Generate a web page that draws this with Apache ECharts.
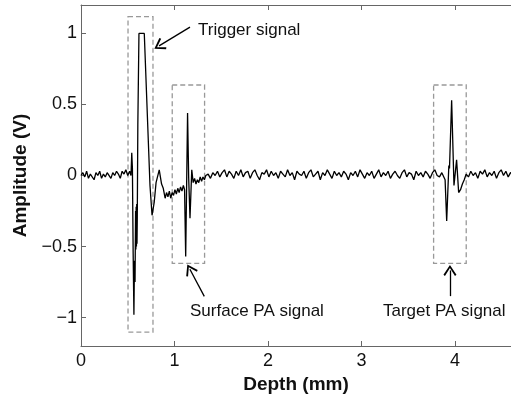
<!DOCTYPE html>
<html>
<head>
<meta charset="utf-8">
<script src="https://cdn.jsdelivr.net/npm/echarts@6/dist/echarts.min.js"></script>
<style>html,body{margin:0;padding:0;background:#fff;}#chart{width:511px;height:396px;}</style>
</head>
<body>
<div id="chart"></div>
<script>
// ---- data ----
const depth = [
  0,0.02,0.04,0.06,0.08,0.1,0.12,0.14,0.16,0.18,0.2,0.22,0.24,0.26,0.28,0.3,0.32,0.34,0.36,0.38,0.4,0.42,0.44,0.46,0.48,0.5,0.52,
  0.535,0.543,0.55,0.558,0.566,0.572,0.578,0.584,0.587,0.59,0.593,0.596,0.599,0.602,0.608,0.62,0.677,0.738,0.76,0.783,0.803,0.837,0.862,0.88,0.9,0.915,0.93,0.945,0.96,0.975,0.99,1.005,1.02,1.035,1.05,1.065,1.08,1.095,1.108,1.12,1.14,1.152,1.166,1.185,1.2,1.215,1.23,1.245,1.26,1.275,1.29,1.305,1.32,1.335,
  1.36,1.385,1.41,1.435,1.46,1.485,1.51,1.535,1.56,1.585,1.61,1.635,1.66,1.685,1.71,1.735,1.76,1.785,1.81,1.835,1.86,1.885,1.91,1.935,1.96,1.985,2.01,2.035,2.06,2.085,2.11,2.135,2.16,2.185,2.21,2.235,2.26,2.285,2.31,2.335,2.36,2.385,2.41,2.435,2.46,2.485,2.51,2.535,2.56,2.585,2.61,2.635,2.66,2.685,2.71,2.735,2.76,2.785,2.81,2.835,2.86,2.885,2.91,2.935,2.96,2.985,3.01,3.035,3.06,3.085,3.11,3.135,3.16,3.185,3.21,3.235,3.26,3.285,3.31,3.335,3.36,3.385,3.41,3.435,3.46,3.485,3.51,3.535,3.56,3.585,3.61,3.635,3.66,3.685,3.71,3.735,3.76,3.785,3.81,3.835,3.86,
  3.88,3.895,3.912,3.935,3.942,3.965,3.99,4.018,4.04,4.06,4.08,4.1,4.12,
  4.145,4.17,4.195,4.22,4.245,4.27,4.295,4.32,4.345,4.37,4.395,4.42,4.445,4.47,4.495,4.52,4.545,4.57,4.595,4.62
];
const amplitude = [
  0.00,0.02,-0.01,0.03,-0.02,0.01,0.02,-0.03,0.02,0.00,0.03,-0.02,0.01,-0.01,0.02,0.03,-0.02,0.02,0.00,0.03,0.01,-0.02,0.03,0.01,0.04,0.00,0.03,
  0.00,0.16,0.05,-0.55,-0.98,-0.60,-0.75,-0.25,-0.52,-0.22,-0.50,-0.20,-0.48,-0.30,0.36,1.00,1.00,-0.07,-0.28,-0.19,-0.05,0.04,-0.06,-0.09,-0.16,-0.12,-0.15,-0.11,-0.16,-0.12,-0.14,-0.10,-0.13,-0.09,-0.12,-0.08,-0.11,-0.07,-0.10,-0.57,0.44,-0.02,-0.30,0.04,-0.05,-0.02,-0.06,-0.03,-0.05,-0.01,-0.04,-0.01,-0.03,0.00,
  0.01,-0.02,0.02,0.00,0.03,-0.01,0.02,0.04,-0.01,0.03,
  0.01,-0.02,0.03,0.00,0.04,-0.01,0.02,0.03,-0.02,0.02,
  0.04,0.00,-0.03,0.02,0.01,0.04,-0.01,0.03,0.00,0.02,
  -0.02,0.03,0.01,-0.01,0.04,0.00,0.02,-0.03,0.03,0.01,
  0.00,0.03,-0.02,0.02,0.04,-0.01,0.01,0.03,-0.03,0.02,
  0.00,0.04,0.01,-0.02,0.03,0.00,0.02,-0.01,0.03,0.01,
  -0.03,0.02,0.00,0.03,-0.01,0.04,0.01,-0.02,0.02,0.00,
  0.03,-0.02,0.01,0.04,-0.01,0.02,0.00,0.03,-0.02,0.01,
  0.03,0.00,-0.02,0.02,0.04,-0.01,0.02,0.01,-0.03,0.03,
  0.00,0.02,-0.01,0.03,0.01,-0.02,0.02,0.04,0.00,-0.01,
  0.02,
  0.01,-0.03,-0.32,0.07,0.05,0.53,-0.07,0.11,-0.12,-0.10,-0.06,-0.03,0.01,
  -0.01,0.03,0.00,0.02,-0.02,0.03,0.01,0.04,-0.01,0.02,0.00,0.03,-0.02,0.02,0.04,0.00,0.03,-0.01,0.02,0.01
];
const xTicks = [0, 1, 2, 3, 4];
const yTicks = [-1, -0.5, 0, 0.5, 1];
// annotation boxes: [xStart, yTop, xEnd, yBottom]
const boxes = [
  [0.503, 1.118, 0.77, -1.102],
  [0.976, 0.637, 1.322, -0.618],
  [3.772, 0.637, 4.121, -0.618]
];
// annotation arrows: [xTail, yTail, xTip, yTip]
const arrows = [
  [1.166, 1.044, 0.835, 0.912],
  [1.319, -0.851, 1.165, -0.66],
  [3.947, -0.849, 3.947, -0.668]
];
const labels = [
  {text: 'Trigger signal', x: 198, y: 32},
  {text: 'Surface PA signal', x: 190, y: 313},
  {text: 'Target PA signal', x: 383, y: 313}
];

const FONT = 'Liberation Sans, Arial, Helvetica, sans-serif';
const series = depth.map((d, i) => [d, amplitude[i]]);
const chart = echarts.init(document.getElementById('chart'), null, {renderer: 'canvas'});
const chevron = 'path://M0,0 L7,10 L5.4,11.2 L0,3.2 L-5.4,11.2 L-7,10 Z';

chart.setOption({
  animation: false,
  grid: {left: 81, right: 0, top: 5, bottom: 50, containLabel: false, outerBoundsMode: 'none'},
  xAxis: [{
    type: 'value', min: 0, max: 4.6, interval: 1,
    name: 'Depth (mm)', nameLocation: 'middle', nameGap: 25,
    nameTextStyle: {fontFamily: FONT, fontWeight: 'bold', fontSize: 19, color: '#111'},
    axisLine: {show: true, onZero: false, lineStyle: {color: '#666', width: 1}},
    axisTick: {show: true, inside: true, length: 5, customValues: xTicks, lineStyle: {color: '#666'}},
    axisLabel: {customValues: xTicks, margin: 6, fontFamily: FONT, fontSize: 18, color: '#111'},
    splitLine: {show: false}
  }, {
    type: 'value', position: 'top', min: 0, max: 4.6, interval: 1,
    axisLine: {show: true, onZero: false, lineStyle: {color: '#666', width: 1}},
    axisTick: {show: true, inside: true, length: 5, customValues: xTicks, lineStyle: {color: '#666'}},
    axisLabel: {show: false},
    splitLine: {show: false}
  }],
  yAxis: {
    type: 'value', min: -1.2, max: 1.2, interval: 0.1,
    name: 'Amplitude (V)', nameLocation: 'middle', nameGap: 44,
    nameTextStyle: {fontFamily: FONT, fontWeight: 'bold', fontSize: 19, color: '#111'},
    axisLine: {show: true, onZero: false, lineStyle: {color: '#666', width: 1}},
    axisTick: {show: true, inside: true, length: 5, customValues: yTicks, lineStyle: {color: '#666'}},
    axisLabel: {
      customValues: yTicks, margin: 4, fontFamily: FONT, fontSize: 18, color: '#111',
      formatter: v => v < 0 ? '\u2212' + Math.abs(v) : String(v)
    },
    splitLine: {show: false}
  },
  series: [{
    type: 'line',
    data: series,
    showSymbol: false,
    symbol: 'none',
    lineStyle: {color: '#000', width: 1.3},
    clip: true,
    markArea: {
      silent: true,
      itemStyle: {color: 'rgba(0,0,0,0)', borderColor: '#999', borderWidth: 1.3, borderType: [5, 3]},
      label: {show: false},
      data: boxes.map(b => [{coord: [b[0], b[1]]}, {coord: [b[2], b[3]]}])
    },
    markLine: {
      silent: true,
      animation: false,
      symbol: ['none', chevron],
      symbolSize: [13, 11],
      label: {show: false},
      lineStyle: {color: '#000', width: 1.3, type: 'solid'},
      data: arrows.map(a => [{coord: [a[0], a[1]]}, {coord: [a[2], a[3]]}])
    }
  }],
  graphic: labels.map(l => ({
    type: 'text', left: l.x, top: l.y - 10,
    style: {text: l.text, fontFamily: FONT, fontSize: 17, fill: '#111', textVerticalAlign: 'top'}
  }))
});
</script>
</body>
</html>
